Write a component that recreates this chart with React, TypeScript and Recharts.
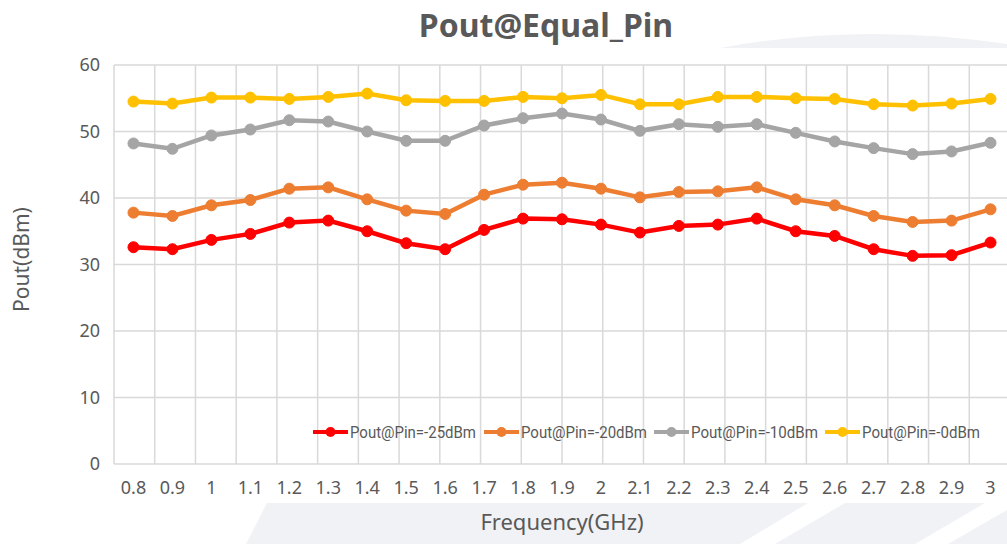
import React from 'react';
import { LineChart, Line, XAxis, YAxis, CartesianGrid, Label } from 'recharts';

const frequencies = ['0.8', '0.9', '1', '1.1', '1.2', '1.3', '1.4', '1.5', '1.6', '1.7', '1.8', '1.9', '2', '2.1', '2.2', '2.3', '2.4', '2.5', '2.6', '2.7', '2.8', '2.9', '3'];

const pin25 = [32.6, 32.3, 33.7, 34.6, 36.3, 36.6, 35.0, 33.2, 32.3, 35.2, 36.9, 36.8, 36.0, 34.8, 35.8, 36.0, 36.9, 35.0, 34.3, 32.3, 31.3, 31.4, 33.3];
const pin20 = [37.8, 37.3, 38.9, 39.7, 41.4, 41.6, 39.8, 38.1, 37.6, 40.5, 42.0, 42.3, 41.4, 40.1, 40.9, 41.0, 41.6, 39.8, 38.9, 37.3, 36.4, 36.6, 38.3];
const pin10 = [48.2, 47.4, 49.4, 50.3, 51.7, 51.5, 50.0, 48.6, 48.6, 50.9, 52.0, 52.7, 51.8, 50.1, 51.1, 50.7, 51.1, 49.8, 48.5, 47.5, 46.6, 47.0, 48.3];
const pin0 = [54.5, 54.2, 55.1, 55.1, 54.9, 55.2, 55.7, 54.7, 54.6, 54.6, 55.2, 55.0, 55.5, 54.1, 54.1, 55.2, 55.2, 55.0, 54.9, 54.1, 53.9, 54.2, 54.9];

const yTicks = [0, 10, 20, 30, 40, 50, 60];
// category boundaries, used only for the vertical grid lines
const gridTicks = Array.from({ length: frequencies.length + 1 }, (_, i) => i);

const series = [
  { key: 'p25', name: 'Pout@Pin=-25dBm', color: '#ff0000' },
  { key: 'p20', name: 'Pout@Pin=-20dBm', color: '#ed7d31' },
  { key: 'p10', name: 'Pout@Pin=-10dBm', color: '#a5a5a5' },
  { key: 'p0', name: 'Pout@Pin=-0dBm', color: '#ffc000' },
];

const data = frequencies.map((f, i) => ({
  freq: f,
  p25: pin25[i],
  p20: pin20[i],
  p10: pin10[i],
  p0: pin0[i],
}));

const font = '"Noto Sans", "DejaVu Sans", sans-serif';
const textColor = '#595959';

// legend drawn as a small svg overlay inside the plot area
const legendX = [313, 484, 654, 825];
const legendTextW = [126, 126, 127, 118];

const ChartLegend = () => (
  <svg width={700} height={24} style={{ position: 'absolute', left: 300, top: 420 }} viewBox="0 0 700 24">
    {series.map((s, i) => {
      const x = legendX[i] - 300;
      return (
        <g key={s.key}>
          <line x1={x} y1={12} x2={x + 35} y2={12} stroke={s.color} strokeWidth={4} />
          <circle cx={x + 17.5} cy={12} r={5} fill={s.color} />
          <text x={x + 37} y={17.5} fontSize={16} fill={textColor} fontFamily="Roboto, sans-serif" textLength={legendTextW[i]} lengthAdjust="spacingAndGlyphs">
            {s.name}
          </text>
        </g>
      );
    })}
  </svg>
);

// faint watermark shapes in the page background
const Watermark = () => (
  <svg width={1007} height={544} style={{ position: 'absolute', left: 0, top: 0 }}>
    <path d="M 720 48 Q 860 22 1007 44 L 1007 48 Z" fill="#f1f2f5" />
    <polygon points="267,503 1007,503 1007,544 246,544" fill="#f1f2f5" />
    <polygon points="740,544 775,544 845,503 808,503" fill="#ffffff" />
    <polygon points="915,544 948,544 1007,510 1007,503 985,503" fill="#ffffff" />
  </svg>
);

export default function App() {
  return (
    <div style={{ position: 'absolute', left: 0, top: 0, width: 1007, height: 544, overflow: 'hidden', background: '#ffffff' }}>
      <Watermark />
      <div style={{ position: 'absolute', top: 3, left: 0, width: 1092, textAlign: 'center', fontFamily: font, fontWeight: 700, fontSize: 32, color: textColor }}>
        Pout@Equal_Pin
      </div>
      <LineChart width={1012} height={544} data={data} margin={{ top: 65, right: 2, bottom: 0, left: 0 }}>
        <CartesianGrid stroke="#d9d9d9" strokeWidth={1.5} xAxisId="grid" fill="#ffffff" />
        <XAxis xAxisId="grid" type="number" domain={[0, frequencies.length]} ticks={gridTicks} allowDataOverflow hide />
        <XAxis
          dataKey="freq"
          scale="band"
          axisLine={false}
          tickLine={false}
          height={80}
          tickMargin={11}
          tick={{ fill: textColor, fontSize: 18, fontFamily: font }}
          interval={0}
        >
          <Label value="Frequency(GHz)" position="insideBottom" offset={14} style={{ fill: textColor, fontSize: 22, fontFamily: font }} />
        </XAxis>
        <YAxis
          domain={[0, 60]}
          ticks={yTicks}
          axisLine={false}
          tickLine={false}
          width={114}
          tickMargin={8}
          tick={{ fill: textColor, fontSize: 18, fontFamily: font }}
        >
          <Label value="Pout(dBm)" angle={-90} position="insideLeft" offset={22} dy={-5} style={{ fill: textColor, fontSize: 21, fontFamily: font, textAnchor: 'middle' }} />
        </YAxis>
        {series.map((s) => (
          <Line
            key={s.key}
            type="linear"
            dataKey={s.key}
            name={s.name}
            stroke={s.color}
            strokeWidth={4.5}
            dot={{ r: 5.5, fill: s.color, stroke: s.color, strokeWidth: 1 }}
            activeDot={false}
            isAnimationActive={false}
          />
        ))}
      </LineChart>
      <ChartLegend />
    </div>
  );
}
